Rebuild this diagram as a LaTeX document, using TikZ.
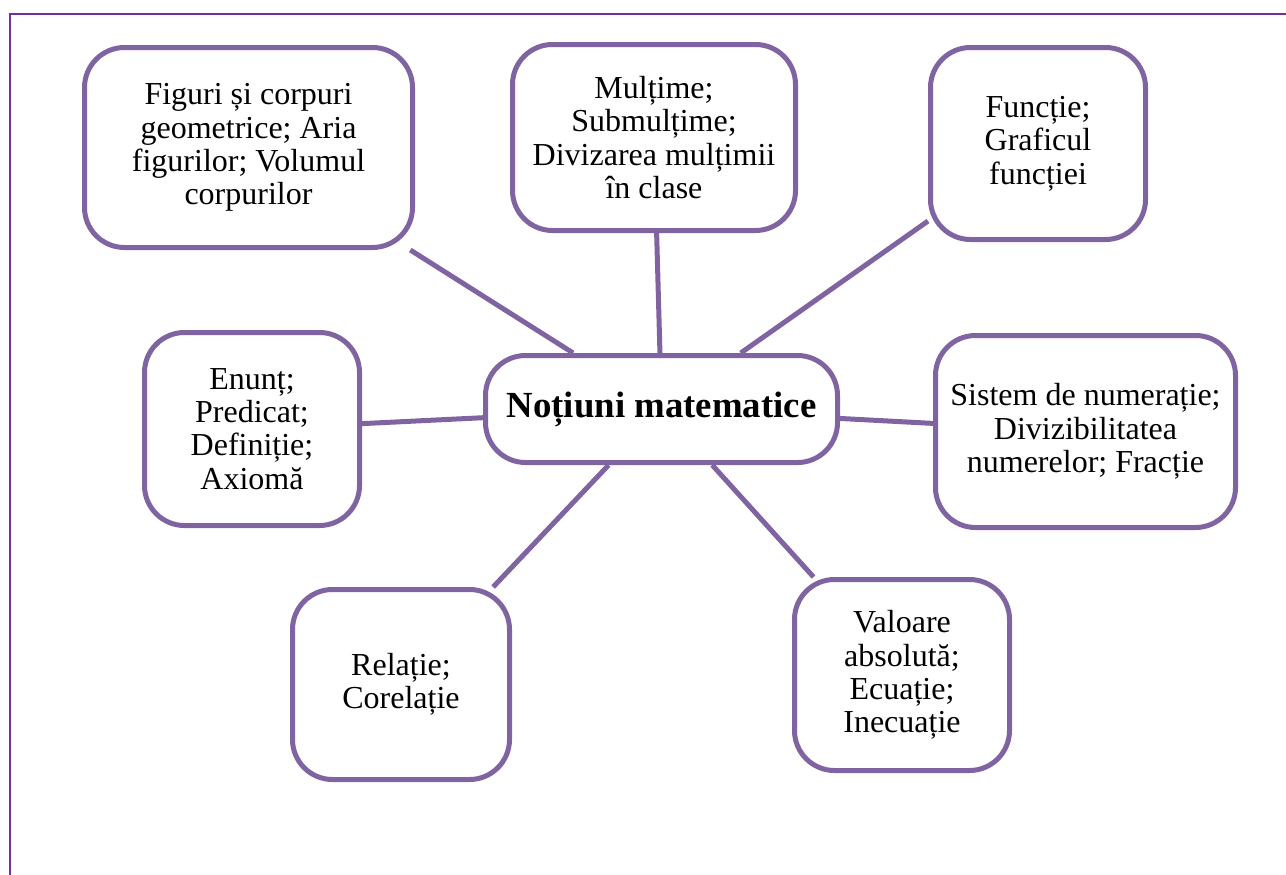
\documentclass[tikz,border=0pt]{standalone}
\usepackage{fontspec}
\setmainfont{Liberation Serif}
\definecolor{framec}{HTML}{7030A0}
\definecolor{boxc}{HTML}{8064A2}
\begin{document}
\begin{tikzpicture}[x=0.75pt,y=-0.75pt,
  bx/.style 2 args={draw=boxc, line width=3.75pt, rounded corners=30pt, fill=white,
    align=center, inner sep=0pt, font=\fontsize{24}{25}\selectfont,
    minimum width={#1*0.75pt}, minimum height={#2*0.75pt}},
  link/.style={draw=boxc, line width=3.75pt},
  frame/.style={draw=framec, line width=1.6pt}]
\useasboundingbox (0,0) rectangle (1286,875);
\draw[frame] (1290,14) -- (10,14) -- (10,880);
\node[bx={352}{107}, font=\bfseries\fontsize{27.6}{30}\selectfont] (c) at (661.5,409) {Noțiuni matematice};
\node[bx={328}{200}] (fig) at (248.5,147.5) {Figuri și corpuri\\geometrice; Aria\\figurilor; Volumul\\corpurilor};
\node[bx={283}{186}] (mul) at (654,137.5) {Mulțime;\\Submulțime;\\Divizarea mulțimii\\în clase};
\node[bx={215}{192}] (fun) at (1038,143.5) {Funcție;\\Graficul\\funcției};
\node[bx={215}{193}] (enu) at (252,429) {Enunț;\\Predicat;\\Definiție;\\Axiomă};
\node[bx={300}{192}] (sis) at (1085.5,431.5) {Sistem de numerație;\\Divizibilitatea\\numerelor; Fracție};
\node[bx={217}{190}] (rel) at (401,684.5) {Relație;\\Corelație};
\node[bx={215}{191}] (val) at (902,675) {Valoare\\absolută;\\Ecuație;\\Inecuație};
\foreach \n in {fig,mul,fun,enu,sis,rel,val}{\path[link] (c) -- (\n);}
\end{tikzpicture}
\end{document}
